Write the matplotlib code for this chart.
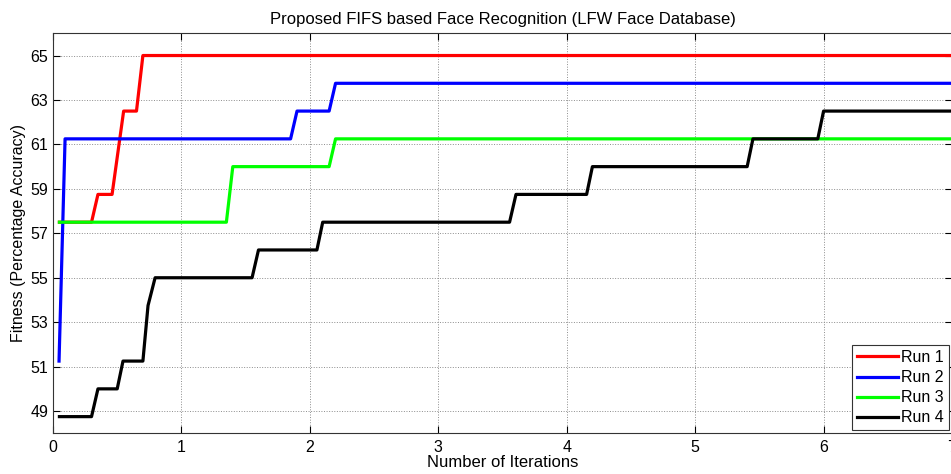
import matplotlib.pyplot as plt

plt.rcParams['font.family'] = ['Liberation Sans', 'DejaVu Sans']

# step breakpoints (x = iterations, y = fitness %)
run1_x = [0.05, 0.30, 0.35, 0.46, 0.55, 0.65, 0.70, 7.0]
run1_y = [57.5, 57.5, 58.75, 58.75, 62.5, 62.5, 65.0, 65.0]

run2_x = [0.047, 0.094, 1.85, 1.90, 2.15, 2.20, 7.0]
run2_y = [51.25, 61.25, 61.25, 62.5, 62.5, 63.75, 63.75]

run3_x = [0.05, 1.35, 1.40, 2.15, 2.20, 7.0]
run3_y = [57.5, 57.5, 60.0, 60.0, 61.25, 61.25]

run4_x = [0.05, 0.30, 0.35, 0.50, 0.545, 0.70, 0.74, 0.795, 1.55, 1.60,
          2.055, 2.10, 3.555, 3.605, 4.155, 4.20, 5.405, 5.45, 5.955, 6.0, 7.0]
run4_y = [48.75, 48.75, 50.0, 50.0, 51.25, 51.25, 53.75, 55.0, 55.0, 56.25,
          56.25, 57.5, 57.5, 58.75, 58.75, 60.0, 60.0, 61.25, 61.25, 62.5, 62.5]

labels = ['Run 1', 'Run 2', 'Run 3', 'Run 4']
colors = ['#ff0000', '#0000ff', '#00ff00', '#000000']
yticks = [49, 51, 53, 55, 57, 59, 61, 63, 65]
xticks = [0, 1, 2, 3, 4, 5, 6, 7]

fig = plt.figure(figsize=(9.51, 4.74), dpi=100)
ax = fig.add_axes([53 / 951, 40.7 / 474, 899 / 951, 400 / 474])

runs = [(run1_x, run1_y), (run2_x, run2_y), (run3_x, run3_y), (run4_x, run4_y)]
for (xs, ys), lab, col in zip(runs, labels, colors):
    ax.plot(xs, ys, color=col, linewidth=2.3, label=lab)

ax.set_xlim(0, 7)
ax.set_ylim(48, 66)
ax.set_xticks(xticks)
ax.set_yticks(yticks)
ax.grid(True, linestyle=':', color='0.55', linewidth=0.7)
ax.tick_params(direction='in', top=True, right=True, length=5, labelsize=11.5)
ax.tick_params(axis='x', pad=5)
for s in ax.spines.values():
    s.set_color('0.2')
    s.set_linewidth(0.8)

ax.set_title('Proposed FIFS based Face Recognition (LFW Face Database)', fontsize=12, pad=7)
ax.set_xlabel('Number of Iterations', fontsize=12, labelpad=0)
ax.set_ylabel('Fitness (Percentage Accuracy)', fontsize=11.5, labelpad=3)

leg = ax.legend(loc='lower right', fontsize=11.5, fancybox=False, framealpha=1,
                edgecolor='0.2', handlelength=2.6, handletextpad=0.2,
                labelspacing=0.32, borderpad=0.3, borderaxespad=0.2)
leg.get_frame().set_linewidth(0.8)

fig.savefig('out.png', dpi=100)
